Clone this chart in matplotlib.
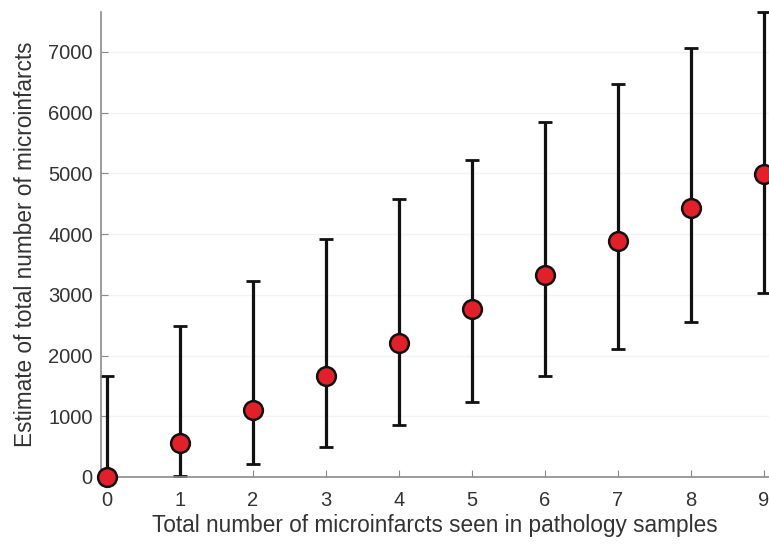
import numpy as np
import matplotlib.pyplot as plt

plt.rcParams['font.family'] = ['Liberation Sans', 'DejaVu Sans']

# valores
n_vistos = [0, 1, 2, 3, 4, 5, 6, 7, 8, 9]
estimativa = [0, 560, 1100, 1660, 2210, 2770, 3320, 3880, 4430, 4990]
limite_sup = [1660, 2490, 3230, 3920, 4580, 5220, 5850, 6470, 7070, 7650]
limite_inf = [0, 20, 220, 500, 850, 1230, 1660, 2110, 2550, 3030]

est = np.array(estimativa)
err = [est - np.array(limite_inf), np.array(limite_sup) - est]

fig = plt.figure(figsize=(7.69, 5.46), dpi=100)
ax = fig.add_axes([0.1313, 0.1264, 0.8687, 0.852])

ax.errorbar(n_vistos, estimativa, yerr=err, fmt='none', ecolor='#111111',
            elinewidth=2.3, capsize=4.8, capthick=2.0, zorder=2, clip_on=False)
ax.plot(n_vistos, estimativa, 'o', ms=13.5, mfc='#e3202a', mec='#111111',
        mew=1.8, zorder=3, clip_on=False)

ax.set_xlim(-0.08, 9.07)
ax.set_ylim(0, 7660)
ax.set_xticks(range(10))
ax.set_yticks(range(0, 7001, 1000))
ax.yaxis.grid(True, color='#f3f3f3', lw=1)
ax.set_axisbelow(True)

for s in ['top', 'right']:
    ax.spines[s].set_visible(False)
for s in ['left', 'bottom']:
    ax.spines[s].set_color('#8a8a8a')
    ax.spines[s].set_linewidth(1.2)
ax.tick_params(direction='in', length=5, color='#8a8a8a', labelsize=14.5,
               labelcolor='#333333')
ax.tick_params(axis='x', pad=10)
ax.tick_params(axis='y', pad=6)

ax.set_xlabel('Total number of microinfarcts seen in pathology samples',
              fontsize=16.3, color='#333333', labelpad=3)
ax.set_ylabel('Estimate of total number of microinfarcts',
              fontsize=16.3, color='#333333', labelpad=8)

plt.savefig('out.png', dpi=100)
plt.close()
